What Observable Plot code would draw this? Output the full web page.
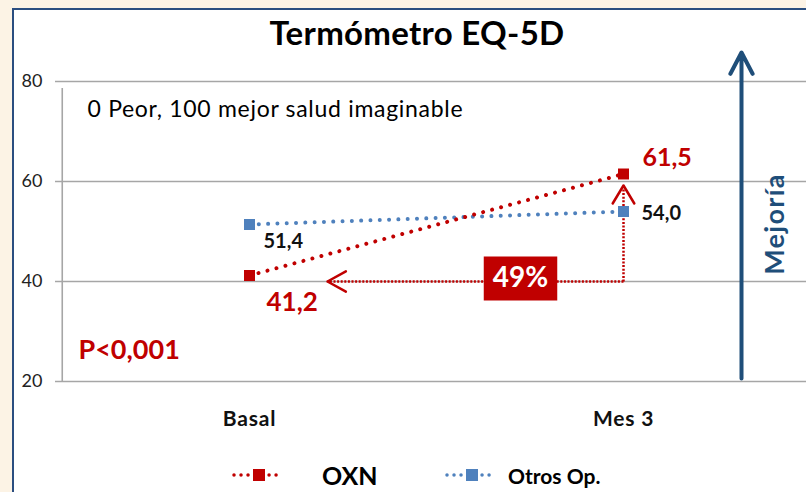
<!DOCTYPE html>
<html>
<head>
<meta charset="utf-8">
<script src="https://cdn.jsdelivr.net/npm/d3@7"></script>
<script src="https://cdn.jsdelivr.net/npm/@observablehq/plot@0.6"></script>
<style>
html, body { margin:0; padding:0; width:806px; height:492px; overflow:hidden; background:#FCF3E5; font-family: Lato, "Open Sans", sans-serif; }
#panel { position:absolute; left:12px; top:8px; width:830px; height:530px; background:#fff; border:2px solid #2B4E80; box-sizing:border-box; }
#title { position:absolute; left:0; top:12px; width:834px; text-align:center; font-size:33px; letter-spacing:0.3px; font-weight:bold; color:#000; line-height:40px; }
#chart { position:absolute; left:0; top:50px; }
#legend { position:absolute; left:0; top:462px; height:26px; width:806px; }
.item { position:absolute; top:0; height:26px; display:flex; align-items:center; font-weight:bold; color:#000; }
.item svg { display:block; }
</style>
</head>
<body>
<div id="panel"></div>
<div id="title"></div>
<div id="chart"></div>
<div id="legend"></div>
<script>
// ---- data ----
const chartTitle = "Termómetro EQ-5D";
const periods = ["Basal", "Mes 3"];
const seriesNames = ["OXN", "Otros Op."];
const oxnValues = [41.2, 61.5];
const otrosValues = [51.4, 54.0];
const yTicks = [20, 40, 60, 80];
const improvementLabel = "49%";
const improvementLevel = 40;
const pValueLabel = "P<0,001";
const scaleNote = "0 Peor, 100 mejor salud imaginable";
const axisNote = "Mejoría";

// ---- styling ----
const RED = "#C00000", BLUE = "#4F81BD", NAVY = "#1F4E79", GRID = "#A6A6A6";
const W = 806, H = 390, ML = 61, MR = -4, MT = 31, MB = 59;
const yDomain = [20, 80];
const pxPerUnit = (H - MT - MB) / (yDomain[1] - yDomain[0]);
const step = (W - MR - ML) / periods.length; // point scale with padding 0.5

const fmt = v => d3.format(".1f")(v).replace(".", ",");
const oxn = periods.map((p, i) => ({period: p, series: seriesNames[0], value: oxnValues[i]}));
const otros = periods.map((p, i) => ({period: p, series: seriesNames[1], value: otrosValues[i]}));

const vArrow = [{x: periods[1], y1: improvementLevel, y2: oxnValues[1]}];
const hArrow = [{x1: periods[1], x2: periods[0], y: improvementLevel}];
const vInsetEnd = 11.5, hInsetEnd = 78;
const vLen = (oxnValues[1] - improvementLevel) * pxPerUnit;
const box = [{x1: periods[0], x2: periods[1], y: improvementLevel}];
const mejoria = [{x: periods[1], y1: yDomain[0], y2: yDomain[1]}];

const labelStyle = {text: d => fmt(d.value), x: "period", y: "value", textAnchor: "start", fontWeight: "bold"};

document.getElementById("title").textContent = chartTitle;

const plot = Plot.plot({
  width: W, height: H,
  marginLeft: ML, marginRight: MR, marginTop: MT, marginBottom: MB,
  style: {fontFamily: "Lato, 'Open Sans', sans-serif", background: "transparent", overflow: "visible"},
  x: {type: "point", domain: periods, padding: 0.5},
  y: {domain: yDomain},
  marks: [
    Plot.ruleY(yTicks, {stroke: GRID, strokeWidth: 1.6, insetLeft: -6}),
    Plot.ruleX([periods[0]], {dx: -step / 2, y1: yDomain[0], y2: yDomain[1], insetBottom: -7, stroke: GRID, strokeWidth: 1.6}),
    Plot.axisY({ticks: yTicks, tickSize: 0, tickPadding: 19, fontSize: 18, fill: "#222", label: null}),
    Plot.axisX({tickSize: 0, tickPadding: 30, fontSize: 21, fontWeight: "bold", fill: "#111", label: null}),
    Plot.text([scaleNote], {frameAnchor: "top-left", lineAnchor: "middle", dx: 26, dy: 28, textAnchor: "start", fontSize: 23, fill: "#000"}),
    Plot.text([pValueLabel], {frameAnchor: "bottom-left", lineAnchor: "middle", dx: 17, dy: -31, textAnchor: "start", fontSize: 27, fontWeight: "bold", fill: RED}),
    // Mejoría arrow and label
    Plot.arrow(mejoria, {x1: "x", x2: "x", y1: "y1", y2: "y2", dx: 118, insetStart: 3, insetEnd: -29, stroke: NAVY, strokeWidth: 4, headLength: 9, headAngle: 55}),
    Plot.text([axisNote], {frameAnchor: "right", textAnchor: "middle", lineAnchor: "middle", dx: -35, dy: -7.5, rotate: -90, fontSize: 27, fontWeight: "bold", fill: NAVY}),
    // series lines
    Plot.line(otros, {x: "period", y: "value", stroke: BLUE, strokeWidth: 4, strokeDasharray: "0.01 9.3", strokeLinecap: "round"}),
    Plot.line(oxn, {x: "period", y: "value", stroke: RED, strokeWidth: 4, strokeDasharray: "0.01 9.3", strokeLinecap: "round"}),
    // 49% arrows (dotted shafts + solid heads)
    Plot.arrow(vArrow, {x1: "x", x2: "x", y1: "y1", y2: "y2", insetEnd: vInsetEnd, headLength: 0, stroke: RED, strokeWidth: 2.5, strokeDasharray: "2 1.6", strokeLinecap: "butt"}),
    Plot.arrow(vArrow, {x1: "x", x2: "x", y1: "y1", y2: "y2", insetEnd: vInsetEnd, insetStart: vLen - vInsetEnd - 1, headLength: 12.6, headAngle: 62, stroke: RED, strokeWidth: 2.5}),
    Plot.arrow(hArrow, {x1: "x1", x2: "x2", y1: "y", y2: "y", insetEnd: hInsetEnd, headLength: 0, stroke: RED, strokeWidth: 2.5, strokeDasharray: "2 1.6", strokeLinecap: "butt"}),
    Plot.arrow(hArrow, {x1: "x1", x2: "x2", y1: "y", y2: "y", insetEnd: hInsetEnd, insetStart: step - hInsetEnd - 1, headLength: 12.6, headAngle: 58, stroke: RED, strokeWidth: 2.5}),
    Plot.ruleY(box, {x1: "x1", x2: "x2", y: "y", insetLeft: 234.75, insetRight: 65.75, dy: -3, stroke: RED, strokeWidth: 44}),
    Plot.text(box, {x: "x2", y: "y", text: () => improvementLabel, dx: -103, dy: -3, fill: "#fff", fontSize: 28, fontWeight: "bold"}),
    // markers
    Plot.dot(otros, {x: "period", y: "value", symbol: "square", r: 6.2, fill: BLUE}),
    Plot.dot(oxn, {x: "period", y: "value", symbol: "square", r: 6.2, fill: RED}),
    // value labels
    Plot.text([oxn[0]], {...labelStyle, dx: 17, dy: 27, fill: RED, fontSize: 26}),
    Plot.text([oxn[1]], {...labelStyle, dx: 19, dy: -16.5, fill: RED, fontSize: 25}),
    Plot.text([otros[0]], {...labelStyle, dx: 14, dy: 17, fill: "#111", fontSize: 20}),
    Plot.text([otros[1]], {...labelStyle, dx: 18, dy: 2, fill: "#111", fontSize: 20})
  ]
});
// letter spacing tweaks for a few texts
const spacing = {[scaleNote]: "0.7px", [axisNote]: "1.3px", [periods[0]]: "0.8px", [periods[1]]: "0.8px"};
plot.querySelectorAll("text").forEach(t => {
  const s = spacing[t.textContent];
  if (s) t.style.letterSpacing = s;
});
document.getElementById("chart").appendChild(plot);

// ---- legend ----
const legendItems = [
  {name: seriesNames[0], color: RED, left: 232, fontSize: 25, gap: 37},
  {name: seriesNames[1], color: BLUE, left: 445, fontSize: 21, gap: 10}
];
const legend = document.getElementById("legend");
for (const it of legendItems) {
  const div = document.createElement("div");
  div.className = "item";
  div.style.left = it.left + "px";
  div.style.fontSize = it.fontSize + "px";
  const ns = "http://www.w3.org/2000/svg";
  const s = document.createElementNS(ns, "svg");
  s.setAttribute("width", 53); s.setAttribute("height", 26);
  s.innerHTML = `<line x1="2" x2="51" y1="13" y2="13" stroke="${it.color}" stroke-width="3.5" stroke-dasharray="0.01 7" stroke-linecap="round"/>` +
                `<rect x="21" y="7" width="12" height="12" fill="${it.color}"/>`;
  s.style.marginRight = it.gap + "px";
  div.appendChild(s);
  const t = document.createElement("span");
  t.textContent = it.name;
  div.appendChild(t);
  legend.appendChild(div);
}
</script>
</body>
</html>
